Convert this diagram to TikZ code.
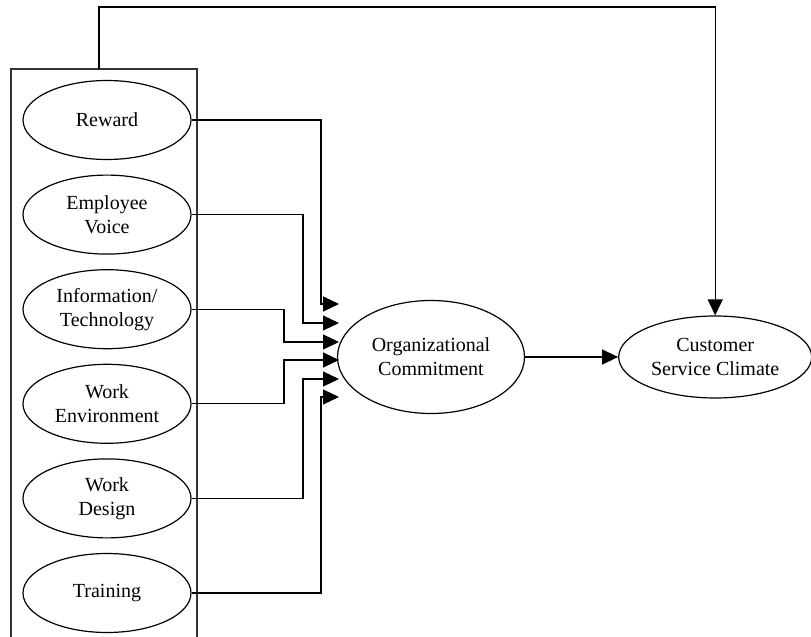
\documentclass[tikz,border=0pt]{standalone}
\usepackage{fontspec}
\setmainfont{Liberation Serif}
\usetikzlibrary{arrows.meta,positioning,calc,shapes.geometric}

\begin{document}
\begin{tikzpicture}[x=0.5pt,y=-0.5pt,node distance=7.2pt and 46.5pt,every node/.style={font=\fontsize{10}{12}\selectfont},factor/.style={ellipse,draw=black,line width=0.6pt,minimum width=84pt,minimum height=39.5pt,inner sep=0pt,align=center},outcome/.style={ellipse,draw=black,line width=0.6pt,inner sep=0pt,align=center},arrow/.style={-{Triangle[length=8pt,width=7.5pt]},line width=0.6pt},link/.style={line width=0.6pt}]
\useasboundingbox (0,0) rectangle (811,637);
\draw[line width=0.8pt,black!80](11,637)--(11,69)--(197,69)--(197,637);
\coordinate(boxtop)at(99,69);\coordinate(corner)at(99,7);
\node[factor](rew)at(107,120){Reward};
\node[factor,below=of rew](voice){Employee\\Voice};
\node[factor,below=of voice](info){Information/\\Technology};
\node[factor,below=of info](env){Work\\Environment};
\node[factor,below=of env](design){Work\\Design};
\node[factor,below=of design](train){Training};
\node[outcome,minimum width=93.5pt,minimum height=56.5pt](org)at(431,357){Organizational\\Commitment};
\node[outcome,minimum width=96.5pt,minimum height=41pt,right=of org](cust){Customer\\Service Climate};
\foreach \k/\y in {1/304,2/323,3/342,4/360,5/379,6/397}\coordinate(t\k)at(339,\y);
\foreach \src/\k/\dx in {rew/1/18,voice/2/36,info/3/55,env/4/55,design/5/36,train/6/18}\draw[arrow](\src.east)-|($(t\k)+(-\dx,0)$)--(t\k);
\draw[arrow](org)--(cust);\draw[arrow](boxtop)--(corner)-|(cust.north);
\end{tikzpicture}
\end{document}
